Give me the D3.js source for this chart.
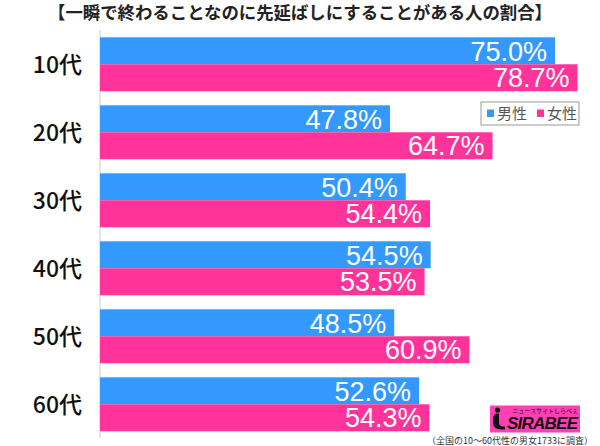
<!DOCTYPE html>
<html><head><meta charset="utf-8">
<script src="https://cdn.jsdelivr.net/npm/d3@7/dist/d3.min.js"></script>
<style>html,body{margin:0;padding:0;background:#fff;}svg{display:block;}</style>
</head><body>
<svg id="c" width="600" height="446"></svg>
<script>
const title = "【一瞬で終わることなのに先延ばしにすることがある人の割合】";
const categories = ["10代","20代","30代","40代","50代","60代"];
const seriesNames = ["男性","女性"];
const male = [75.0, 47.8, 50.4, 54.5, 48.5, 52.6];
const female = [78.7, 64.7, 54.4, 53.5, 60.9, 54.3];
const colors = ["#3399ff", "#ff3399"];
const footnote = "（全国の10〜60代性の男女1733に調査）";

const svg = d3.select("#c");
const jp = "'Noto Sans CJK JP','Noto Sans',sans-serif";
const num = "'Liberation Sans',Arial,sans-serif";

const x = d3.scaleLinear().domain([0, 100]).range([100, 706.7]);
const y = d3.scaleBand().domain(categories).range([30.3, 438.3]).paddingInner(0.206).paddingOuter(0.103);
const sub = d3.scaleBand().domain(seriesNames).range([0, y.bandwidth()]);

// title
svg.append("text").attr("x", 300).attr("y", 19).attr("text-anchor", "middle")
  .attr("font-family", jp).attr("font-weight", "bold").attr("font-size", 17.4)
  .attr("fill", "#222").text(title);

// axis line
svg.append("line").attr("x1", 100).attr("x2", 100).attr("y1", 30).attr("y2", 438)
  .attr("stroke", "#dddddd").attr("stroke-width", 1.5);

const rows = categories.map((c, i) => ({c, vals: [male[i], female[i]]}));
const g = svg.append("g");
rows.forEach(r => {
  r.vals.forEach((v, j) => {
    const top = y(r.c) + sub(seriesNames[j]);
    g.append("rect").attr("x", x(0)).attr("y", top)
      .attr("width", x(v) - x(0)).attr("height", sub.bandwidth())
      .attr("fill", colors[j]);
    g.append("text").attr("x", x(v) - 8).attr("y", top + sub.bandwidth() / 2 + 9.7)
      .attr("text-anchor", "end").attr("font-family", num).attr("font-size", 27)
      .attr("fill", "#fff").text(v.toFixed(1) + "%");
  });
  g.append("text").attr("x", 82).attr("y", y(r.c) + y.bandwidth() / 2 + 8.5)
    .attr("text-anchor", "end").attr("font-family", jp).attr("font-size", 23)
    .attr("font-weight", 500).attr("fill", "#111").text(r.c);
});

// legend
const lg = svg.append("g");
lg.append("rect").attr("x", 481).attr("y", 102).attr("width", 98).attr("height", 23)
  .attr("fill", "#fff").attr("stroke", "#999").attr("stroke-width", 1);
const legX = [487, 537];
seriesNames.forEach((s, j) => {
  lg.append("rect").attr("x", legX[j]).attr("y", 109.5).attr("width", 7).attr("height", 7.5).attr("fill", colors[j]);
  lg.append("text").attr("x", legX[j] + 10).attr("y", 119).attr("font-family", jp)
    .attr("font-size", 15).attr("fill", "#555").text(s);
});

// logo
const lo = svg.append("g");
lo.append("rect").attr("x", 490).attr("y", 405.5).attr("width", 90).attr("height", 27).attr("fill", "#ff3fb4");
lo.append("circle").attr("cx", 497.5).attr("cy", 410).attr("r", 2.6).attr("fill", "#111");
lo.append("path").attr("d", "M496,413.5 L499,413.5 L499,422.5 Q499,426.5 503,426.5 L505,426.5 L505,429.5 L502,429.5 Q493,429.5 493,422.5 L493,416.5 Z").attr("fill", "#111");
lo.append("text").attr("x", 507).attr("y", 429).attr("font-family", num).attr("font-weight", "bold")
  .attr("font-style", "italic").attr("font-size", 17).attr("fill", "#111").attr("textLength", 71).text("SIRABEE");
lo.append("text").attr("x", 578).attr("y", 413).attr("text-anchor", "end").attr("font-family", jp)
  .attr("font-size", 6).attr("fill", "#111").text("ニュースサイトしらべぇ");

// footnote
svg.append("text").attr("x", 593).attr("y", 443.5).attr("text-anchor", "end").attr("font-family", jp)
  .attr("font-size", 9).attr("fill", "#333").text(footnote);
</script>
</body></html>
